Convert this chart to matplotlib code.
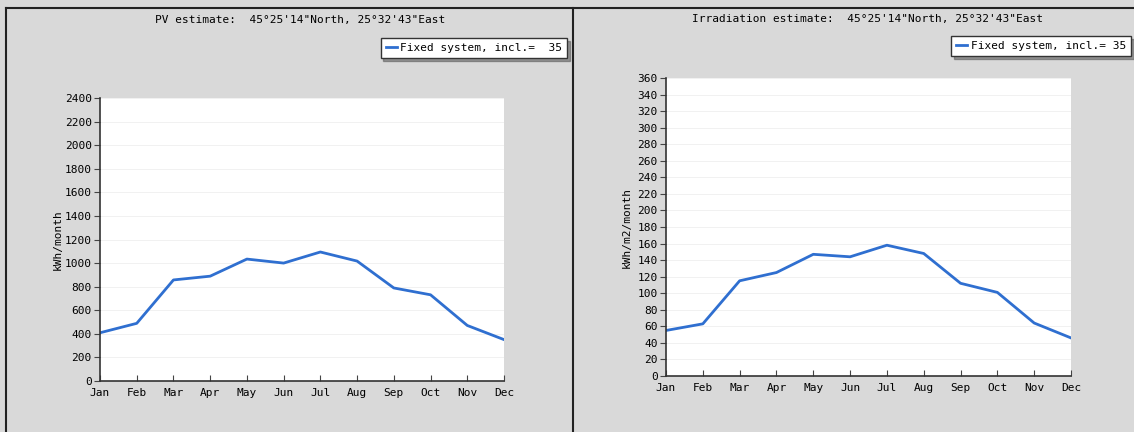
import matplotlib.pyplot as plt
import matplotlib.lines as mlines
import matplotlib.patches as patches
import numpy as np

months = ["Jan", "Feb", "Mar", "Apr", "May", "Jun",
          "Jul", "Aug", "Sep", "Oct", "Nov", "Dec"]

# monthly PV output, kWh/month
pv_output = [409, 489, 857, 889, 1034, 1000, 1094, 1017, 789, 731, 471, 351]
# monthly irradiation on the tilted plane, kWh/m2/month
irradiation = [55, 63, 115, 125, 147, 144, 158, 148, 112, 101, 64, 46]

pv_title = "PV estimate:  45°25'14\"North, 25°32'43\"East"
irr_title = "Irradiation estimate:  45°25'14\"North, 25°32'43\"East"
pv_legend = "Fixed system, incl.=  35"
irr_legend = "Fixed system, incl.= 35"

W, H = 1134, 432
BG = "#d9d9d9"
LINE = "#2f6fd0"
FONT = "DejaVu Sans Mono"

plt.rcParams["font.family"] = FONT
plt.rcParams["font.size"] = 8


def px_rect(x0, y0, x1, y1):
    """Pixel box (top-left origin) -> figure fraction [l, b, w, h]."""
    return [x0 / W, 1 - y1 / H, (x1 - x0) / W, (y1 - y0) / H]


def monthly_panel(fig, rect, values, ymax, ystep, ylabel, label_x,
                  title, title_xy, legend_text, legend_xy):
    ax = fig.add_axes(rect)
    x = np.arange(len(months))
    line, = ax.plot(x, values, color=LINE, lw=2, label=legend_text)

    ax.set_xlim(0, len(months) - 1)
    ax.set_ylim(0, ymax)
    ax.set_xticks(x)
    ax.set_xticklabels(months)
    ax.set_yticks(np.arange(0, ymax + 1, ystep))
    ax.tick_params(axis="x", direction="in", length=4, pad=5, color="#444444")
    ax.tick_params(axis="y", direction="out", length=4, pad=2, color="#444444")
    ax.yaxis.grid(True, color="#efefef", lw=0.6)
    ax.set_axisbelow(True)

    for side in ("top", "right"):
        ax.spines[side].set_visible(False)
    for side in ("left", "bottom"):
        ax.spines[side].set_color("#333333")
        ax.spines[side].set_linewidth(1.2)

    ax.set_ylabel(ylabel)
    ax.yaxis.set_label_coords(label_x, 0.5)

    fig.text(title_xy[0] / W, 1 - title_xy[1] / H, title,
             ha="center", va="center")

    ax.legend(handles=[line], loc="upper right",
              bbox_to_anchor=(legend_xy[0] / W, 1 - legend_xy[1] / H),
              bbox_transform=fig.transFigure,
              handlelength=1.0, handletextpad=0.3, borderpad=0.45,
              borderaxespad=0, fancybox=False, shadow=True,
              framealpha=1, edgecolor="#333333")
    return ax


fig = plt.figure(figsize=(W / 100, H / 100), dpi=100, facecolor=BG)

# panel frame: top edge, outer left edge, divider between the two charts
frame = dict(color="#222222", lw=1.5, transform=fig.transFigure)
fig.add_artist(mlines.Line2D([6 / W, 1], [1 - 8 / H, 1 - 8 / H], **frame))
fig.add_artist(mlines.Line2D([6 / W, 6 / W], [0, 1 - 8 / H], **frame))
fig.add_artist(mlines.Line2D([573 / W, 573 / W], [0, 1 - 8 / H], **frame))
fig.add_artist(patches.Rectangle((0, 0), 1, 1 - 8 / H, facecolor=BG,
                                 edgecolor="none", transform=fig.transFigure,
                                 zorder=-10))

monthly_panel(fig, px_rect(100, 98, 504, 381), pv_output, 2400, 200,
              "kWh/month", -0.092, pv_title, (300, 20),
              pv_legend, (567, 38))
monthly_panel(fig, px_rect(666, 78, 1071, 376), irradiation, 360, 20,
              "kWh/m2/month", -0.084, irr_title, (867, 19),
              irr_legend, (1131, 36))

fig.savefig("out.png", dpi=100, facecolor=BG)
